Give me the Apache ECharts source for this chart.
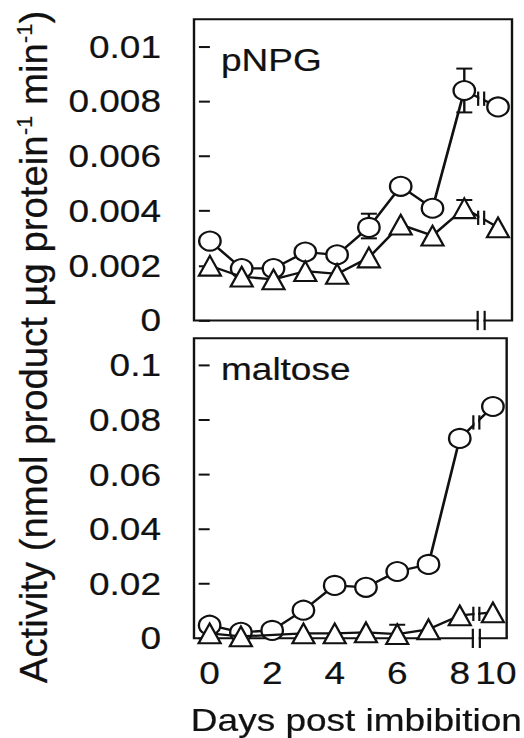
<!DOCTYPE html>
<html>
<head>
<meta charset="utf-8">
<script src="https://cdn.jsdelivr.net/npm/echarts@6/dist/echarts.min.js"></script>
<style>
html,body{margin:0;padding:0;background:#fff;overflow:hidden;}
#wrap{width:524px;height:738px;overflow:hidden;position:relative;}
#chart{position:absolute;left:0;top:0;width:524px;transform-origin:0 0;}
</style>
</head>
<body>
<div id="wrap"><div id="chart"></div></div>
<script>
// ---------- data ----------
const days = [0, 1, 2, 3, 4, 5, 6, 7, 8, 10];
const xTicks = [0, 2, 4, 6, 8, 10];
const yTicksTop = [0, 0.002, 0.004, 0.006, 0.008, 0.01];
const yTicksBottom = [0, 0.02, 0.04, 0.06, 0.08, 0.1];
const pnpgCircle = [0.0029, 0.0019, 0.0019, 0.0025, 0.0024, 0.0034, 0.0049, 0.0041, 0.0084, 0.0078];
const pnpgTriangle = [0.0020, 0.0016, 0.0015, 0.0018, 0.0017, 0.0023, 0.0035, 0.0031, 0.0041, 0.0034];
const maltoseCircle = [0.0048, 0.0022, 0.0029, 0.0103, 0.0194, 0.0187, 0.0245, 0.0271, 0.0733, 0.0850];
const maltoseTriangle = [0.0018, 0.0007, null, 0.0018, 0.0018, 0.0022, 0.0015, 0.0033, 0.0084, 0.0095];
// error bars: [day, low, high]
const pnpgCircleErr = [[5, 0.0030, 0.0039], [8, 0.0076, 0.0092]];
const pnpgTriangleErr = [[8, 0.0038, 0.0044]];
const maltoseCircleErr = [];
const maltoseTriangleErr = [[6, 0.0005, 0.0050]];
const breakDay = 9;

// ---------- layout ----------
const K = 0.84;               // vertical compression of the whole figure
const H = 738 / K;
const el = document.getElementById('chart');
el.style.height = H + 'px';
el.style.transform = 'scaleY(' + K + ')';

const FONT = 'Liberation Sans, Arial, sans-serif';
const INK = '#111';
const TXT = { color: INK, fontFamily: FONT, textBorderColor: INK, textBorderWidth: 0.25 };

// broken axis: days after 8 are compressed
function toAxis(d) { return d <= 8 ? d : 8 + (d - 8) * 0.53; }
function pts(vals) { return days.map((d, i) => [toAxis(d), vals[i]]); }

function errSeries(errs, gi) {
  return {
    type: 'custom', xAxisIndex: gi, yAxisIndex: gi, z: 1, clip: false, silent: true,
    dimensions: ['x', 'lo', 'hi'], encode: { x: 0, y: [1, 2] },
    data: errs.map(e => [toAxis(e[0]), e[1], e[2]]),
    renderItem: function (params, api) {
      const x = api.value(0);
      const a = api.coord([x, api.value(1)]);
      const b = api.coord([x, api.value(2)]);
      const c = 8;
      const st = { stroke: INK, lineWidth: 2.4 };
      return { type: 'group', children: [
        { type: 'line', shape: { x1: a[0], y1: a[1], x2: b[0], y2: b[1] }, style: st },
        { type: 'line', shape: { x1: a[0] - c, y1: a[1], x2: a[0] + c, y2: a[1] }, style: st },
        { type: 'line', shape: { x1: b[0] - c, y1: b[1], x2: b[0] + c, y2: b[1] }, style: st }
      ]};
    }
  };
}

function lineSeries(vals, gi, sym, z) {
  return {
    type: 'line', xAxisIndex: gi, yAxisIndex: gi, z: z,
    data: pts(vals), connectNulls: true,
    symbol: sym, symbolSize: sym === 'circle' ? [21.5, 22.5] : [22, 23.5],
    showSymbol: true, silent: true,
    lineStyle: { color: INK, width: 2.7 },
    itemStyle: { color: '#fff', borderColor: INK, borderWidth: 2.4, opacity: 1 }
  };
}

function lineBreak(vals, gi) {
  const n = days.length;
  return {
    type: 'custom', xAxisIndex: gi, yAxisIndex: gi, z: 6, clip: false, silent: true,
    dimensions: ['x1', 'y1', 'x2', 'y2'], encode: { x: [0, 2], y: [1, 3] },
    data: [[toAxis(days[n - 2]), vals[n - 2], toAxis(days[n - 1]), vals[n - 1]]],
    renderItem: function (params, api) {
      const a = api.coord([api.value(0), api.value(1)]);
      const b = api.coord([api.value(2), api.value(3)]);
      const mx = (a[0] + b[0]) / 2, my = (a[1] + b[1]) / 2;
      const g = 3, h = 8.5;
      const st = { stroke: INK, lineWidth: 2.2 };
      return { type: 'group', children: [
        { type: 'rect', shape: { x: mx - g + 1.2, y: my - 6, width: 2 * g - 2.4, height: 12 }, style: { fill: '#fff' } },
        { type: 'line', shape: { x1: mx - g, y1: my - h, x2: mx - g, y2: my + h }, style: st },
        { type: 'line', shape: { x1: mx + g, y1: my - h, x2: mx + g, y2: my + h }, style: st }
      ]};
    }
  };
}

function axisBreak(gi) {
  return {
    type: 'custom', xAxisIndex: gi, yAxisIndex: gi, z: 6, clip: false, silent: true,
    data: [[toAxis(breakDay), 0]],
    renderItem: function (params, api) {
      const p = api.coord([api.value(0), api.value(1)]);
      const g = 3.5, h = 11.5;
      const st = { stroke: INK, lineWidth: 2.2 };
      return { type: 'group', children: [
        { type: 'rect', shape: { x: p[0] - g + 1.2, y: p[1] - 3.5, width: 2 * g - 2.4, height: 7 }, style: { fill: '#fff' } },
        { type: 'line', shape: { x1: p[0] - g, y1: p[1] - h, x2: p[0] - g, y2: p[1] + h }, style: st },
        { type: 'line', shape: { x1: p[0] + g, y1: p[1] - h, x2: p[0] + g, y2: p[1] + h }, style: st }
      ]};
    }
  };
}

function yAxis(gi, max, ticks) {
  return {
    type: 'value', gridIndex: gi, min: 0, max: max,
    splitLine: { show: false }, axisLine: { show: false },
    axisTick: { show: true, customValues: ticks, length: 11, lineStyle: { color: INK, width: 2.4 } },
    axisLabel: Object.assign({ customValues: ticks, formatter: v => String(v), fontSize: 37, margin: 33 }, TXT)
  };
}

function xAxis(gi, withLabels) {
  const ax = {
    type: 'value', gridIndex: gi, min: -0.5, max: 9.5,
    splitLine: { show: false }, axisLine: { show: false }, axisTick: { show: false },
    axisLabel: { show: false }
  };
  if (withLabels) {
    ax.axisLabel = Object.assign({
      show: true, customValues: xTicks.map(toAxis),
      formatter: function (v) {
        const i = xTicks.findIndex(d => Math.abs(toAxis(d) - v) < 1e-6);
        if (i < 0) return '';
        return xTicks[i] > 8 ? '{r|' + xTicks[i] + '}' : String(xTicks[i]);
      },
      rich: { r: Object.assign({ fontSize: 37, padding: [0, 0, 0, 6] }, TXT) },
      fontSize: 37, margin: 23
    }, TXT);
    ax.name = 'Days post imbibition';
    ax.nameLocation = 'middle';
    ax.nameGap = 79;
    ax.nameTextStyle = Object.assign({ fontSize: 37, padding: [0, 0, 0, 12] }, TXT);
  }
  return ax;
}

const chart = echarts.init(el, null, { renderer: 'svg', width: 524, height: H });
chart.setOption({
  animation: false,
  backgroundColor: '#fff',
  title: [
    { text: 'pNPG', left: 221, top: 53, padding: 0, textStyle: Object.assign({ fontSize: 37, fontWeight: 'normal' }, TXT) },
    { text: 'maltose', left: 221, top: 421, padding: 0, textStyle: Object.assign({ fontSize: 37, fontWeight: 'normal' }, TXT) }
  ],
  grid: [
    { left: 194, top: 19.3 / K, width: 318, height: (320.5 - 19.3) / K, show: true, borderColor: INK, borderWidth: 2.4, backgroundColor: 'transparent' },
    { left: 194, top: 338.3 / K, width: 318, height: (638.3 - 338.3) / K, show: true, borderColor: INK, borderWidth: 2.4, backgroundColor: 'transparent' }
  ],
  xAxis: [xAxis(0, false), xAxis(1, true)],
  yAxis: [yAxis(0, 0.011, yTicksTop), yAxis(1, 0.11, yTicksBottom)],
  graphic: [{
    type: 'text', x: 34, y: 347 / K, rotation: Math.PI / 2, scaleX: 1.2, scaleY: 1,
    style: {
      text: '{a|Activity (nmol product µg protein}{s|-1}{a| min}{s|-1}{a|)}',
      align: 'center', verticalAlign: 'middle', fill: INK,
      rich: {
        a: { fontSize: 38, lineHeight: 40, fontFamily: FONT, fill: INK, stroke: INK, lineWidth: 0.25 },
        s: { fontSize: 22, lineHeight: 22, fontFamily: FONT, fill: INK, verticalAlign: 'top', stroke: INK, lineWidth: 0.2 }
      }
    }
  }],
  series: [
    errSeries(pnpgCircleErr, 0),
    errSeries(pnpgTriangleErr, 0),
    lineSeries(pnpgCircle, 0, 'circle', 2),
    lineSeries(pnpgTriangle, 0, 'triangle', 3),
    lineBreak(pnpgCircle, 0),
    lineBreak(pnpgTriangle, 0),
    axisBreak(0),
    errSeries(maltoseCircleErr, 1),
    errSeries(maltoseTriangleErr, 1),
    lineSeries(maltoseCircle, 1, 'circle', 2),
    lineSeries(maltoseTriangle, 1, 'triangle', 3),
    lineBreak(maltoseCircle, 1),
    lineBreak(maltoseTriangle, 1),
    axisBreak(1)
  ]
});
</script>
</body>
</html>
